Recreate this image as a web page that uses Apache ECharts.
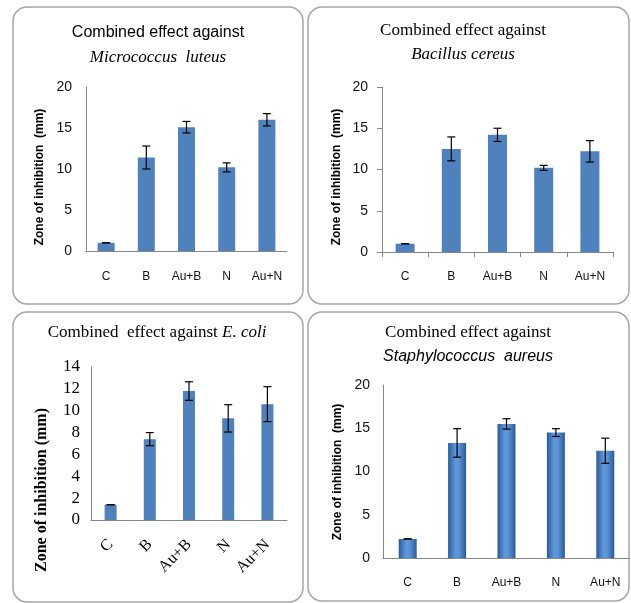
<!DOCTYPE html>
<html>
<head>
<meta charset="utf-8">
<script src="https://cdn.jsdelivr.net/npm/echarts@6/dist/echarts.min.js"></script>
<style>
html,body{margin:0;padding:0;background:#fff;}
#c{width:631px;height:603px;}
</style>
</head>
<body>
<div id="c"></div>
<script>
const categories = ['C', 'B', 'Au+B', 'N', 'Au+N'];

const mlMean = [1.0, 11.4, 15.1, 10.2, 16.0];
const mlErr  = [0, 1.4, 0.7, 0.55, 0.75];

const bcMean = [1.0, 12.5, 14.2, 10.2, 12.2];
const bcErr  = [0, 1.45, 0.8, 0.3, 1.3];

const ecMean = [1.4, 7.4, 11.8, 9.3, 10.6];
const ecErr  = [0, 0.6, 0.85, 1.25, 1.6];

const saMean = [2.2, 13.3, 15.5, 14.5, 12.4];
const saErr  = [0, 1.65, 0.6, 0.45, 1.45];

const yTitle = 'Zone of inhibition  (mm)';
const yTitleSerif = 'Zone of inhibition (mm)';

const chart = echarts.init(document.getElementById('c'), null, {renderer: 'canvas'});

const SANS = 'Liberation Sans';
const SERIF = 'Liberation Serif';
const axisGrey = '#868686';
const barBlue = '#4F81BD';

function errData(mean, err) {
  return mean.map((m, i) => [i, m - err[i], m + err[i]]);
}
function errRender(params, api) {
  const x = api.value(0);
  const p1 = api.coord([x, api.value(2)]);
  const p2 = api.coord([x, api.value(1)]);
  const w = 4;
  const st = {stroke: '#000', lineWidth: 1.2};
  return {
    type: 'group',
    children: [
      {type: 'line', shape: {x1: p1[0], y1: p1[1], x2: p2[0], y2: p2[1]}, style: st},
      {type: 'line', shape: {x1: p1[0] - w, y1: p1[1], x2: p1[0] + w, y2: p1[1]}, style: st},
      {type: 'line', shape: {x1: p2[0] - w, y1: p2[1], x2: p2[0] + w, y2: p2[1]}, style: st}
    ]
  };
}

const grids = [
  {left: 86, top: 87, width: 201, height: 164},
  {left: 382, top: 87, width: 231, height: 165},
  {left: 91, top: 367, width: 196, height: 153},
  {left: 383, top: 385, width: 247, height: 173}
].map(g => Object.assign({containLabel: false, outerBoundsMode: 'none'}, g));

function xLabel(extra) {
  return Object.assign({fontFamily: SANS, fontSize: 12, color: '#111', margin: 20, interval: 0, hideOverlap: false}, extra || {});
}
function xAx(idx, opts) {
  return Object.assign({
    type: 'category', gridIndex: idx, data: categories,
    axisLine: {show: true, lineStyle: {color: axisGrey, width: 1}},
    axisTick: {show: false},
    axisLabel: xLabel()
  }, opts || {});
}
function yAx(idx, max, interval, opts) {
  return Object.assign({
    type: 'value', gridIndex: idx, min: 0, max: max, interval: interval,
    splitLine: {show: false},
    axisLine: {show: true, lineStyle: {color: axisGrey, width: 1}},
    axisTick: {show: false},
    axisLabel: {fontFamily: SANS, fontSize: 14, color: '#111', margin: 14}
  }, opts || {});
}

const xAxes = [
  xAx(0),
  xAx(1, {axisTick: {show: true, length: 5, lineStyle: {color: axisGrey}}, axisLabel: xLabel({margin: 19})}),
  xAx(2, {axisLabel: xLabel({fontFamily: SERIF, fontSize: 16, color: '#000', rotate: 45, margin: 22})}),
  xAx(3, {axisLabel: xLabel({margin: 19})})
];
const yAxes = [
  yAx(0, 20, 5),
  yAx(1, 20, 5, {axisTick: {show: true, length: 5, lineStyle: {color: axisGrey}}}),
  yAx(2, 14, 2, {axisLabel: {fontFamily: SERIF, fontSize: 17, color: '#000', margin: 11}}),
  yAx(3, 20, 5, {axisLabel: {fontFamily: SANS, fontSize: 14, color: '#111', margin: 13}})
];

const cylinder = new echarts.graphic.LinearGradient(0, 0, 1, 0, [
  {offset: 0, color: '#2B5A98'},
  {offset: 0.4, color: '#5E97DA'},
  {offset: 0.6, color: '#5A93D6'},
  {offset: 1, color: '#2B5A98'}
]);

const means = [mlMean, bcMean, ecMean, saMean];
const errs = [mlErr, bcErr, ecErr, saErr];
const barWidths = [17, 19, 12, 18];

const series = [];
means.forEach((m, i) => {
  series.push({
    type: 'bar', xAxisIndex: i, yAxisIndex: i, data: m, barWidth: barWidths[i],
    itemStyle: {color: i === 3 ? cylinder : barBlue},
    silent: true, animation: false
  });
  series.push({
    type: 'custom', xAxisIndex: i, yAxisIndex: i,
    data: errData(m, errs[i]), renderItem: errRender,
    encode: {x: 0, y: [1, 2]}, z: 10, silent: true, animation: false
  });
});

function panel(x, y, w, h) {
  return {type: 'rect', shape: {x: x, y: y, width: w, height: h, r: 14},
    style: {fill: 'none', stroke: '#a6a6a6', lineWidth: 1.5}, silent: true};
}
function txt(x, y, text, font) {
  return {type: 'text', x: x, y: y, silent: true,
    style: {text: text, font: font, fill: '#000', textAlign: 'center', textVerticalAlign: 'middle'}};
}
function vtxt(x, y, text, font) {
  return {type: 'text', x: x, y: y, rotation: Math.PI / 2, silent: true,
    style: {text: text, font: font, fill: '#000', textAlign: 'center', textVerticalAlign: 'middle'}};
}

const graphic = [
  panel(13, 7, 290, 297),
  panel(308, 7, 321, 297),
  panel(13, 312, 290, 290),
  panel(308, 312, 321, 289),
  txt(158, 33, 'Combined effect against', '16px "' + SANS + '"'),
  txt(158, 58, 'Micrococcus  luteus', 'italic 17px "' + SERIF + '"'),
  txt(463, 31, 'Combined effect against', '17px "' + SERIF + '"'),
  txt(463, 55, 'Bacillus cereus', 'italic 17px "' + SERIF + '"'),
  {type: 'text', x: 157, y: 333, silent: true,
    style: {text: '{a|Combined  effect against }{b|E. coli}', textAlign: 'center', textVerticalAlign: 'middle',
      rich: {a: {fontFamily: SERIF, fontSize: 17, fill: '#000'}, b: {fontFamily: SERIF, fontSize: 17, fontStyle: 'italic', fill: '#000'}}}},
  txt(468, 333, 'Combined effect against', '17px "' + SERIF + '"'),
  txt(468, 357, 'Staphylococcus  aureus', 'italic 16px "' + SANS + '"'),
  vtxt(40, 177, yTitle, 'bold 12px "' + SANS + '"'),
  vtxt(337, 177, yTitle, 'bold 12px "' + SANS + '"'),
  vtxt(42, 490, yTitleSerif, 'bold 16px "' + SERIF + '"'),
  vtxt(338, 472, yTitle, 'bold 12px "' + SANS + '"')
];

chart.setOption({
  animation: false,
  backgroundColor: '#ffffff',
  grid: grids,
  xAxis: xAxes,
  yAxis: yAxes,
  series: series,
  graphic: graphic
});
</script>
</body>
</html>
